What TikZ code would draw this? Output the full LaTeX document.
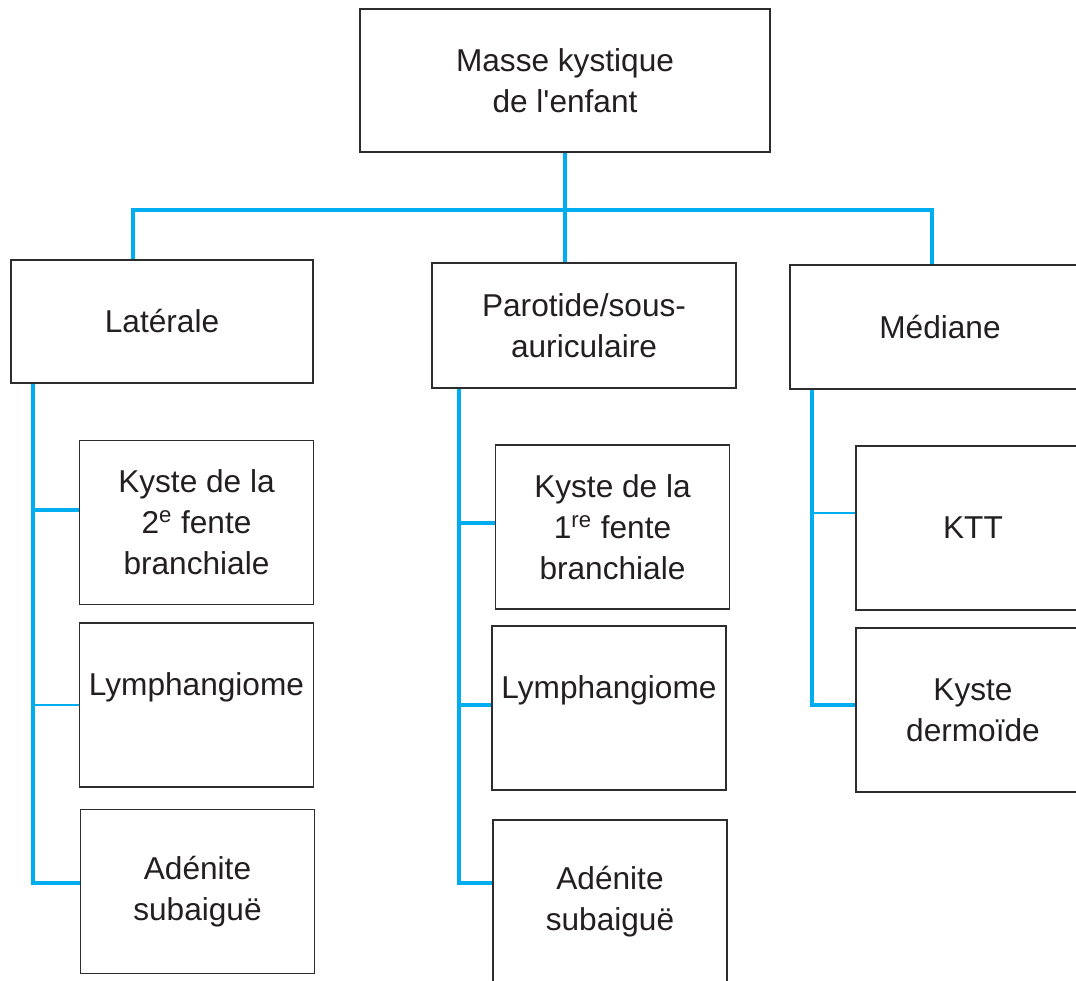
\documentclass[tikz,border=0pt]{standalone}
\usepackage{fontspec}
\setmainfont{Liberation Sans}[Ligatures=TeXOff]
\definecolor{bleulien}{RGB}{0,174,239}
\definecolor{gristrait}{RGB}{45,45,45}
\definecolor{noirtexte}{RGB}{35,31,32}

\begin{document}
\begin{tikzpicture}[
    x=0.02cm, y=-0.02cm, % une unité = un pixel
    % Réglages des boîtes et des liaisons
    boite/.style={draw=gristrait, line width=1.1pt, fill=white, align=center,
        text=noirtexte, inner sep=0pt, font=\fontsize{18}{23.3}\selectfont},
    feuille/.style={boite, minimum width=4.68cm, minimum height=3.28cm},
    lien/.style={draw=bleulien, line width=1.8pt},
    lienfin/.style={draw=bleulien, line width=0.6pt}
]
\useasboundingbox (0,0) rectangle (1076,981);
% Racine
\node[boite, minimum width=8.2cm, minimum height=2.86cm] (racine) at (565,80.5) {Masse kystique\\de l'enfant};
% Les trois localisations
\node[boite, minimum width=6.04cm, minimum height=2.46cm] (laterale) at (162,321.5) {Latérale};
\node[boite, minimum width=6.08cm, minimum height=2.5cm] (parotide) at (584,325.5) {Parotide/sous-\\auriculaire};
\node[boite, minimum width=6cm, minimum height=2.48cm] (mediane) at (940,327) {Médiane};
% Colonne latérale
\node[feuille] (kyste2) at (196.5,522.5) {Kyste de la\\2\textsuperscript{e} fente\\branchiale};
\node[feuille] (lympho1) at (196.5,705) {Lymphangiome\\~};
\node[feuille] (adenite1) at (197.5,891.5) {Adénite\\subaiguë};
% Colonne parotide
\node[feuille] (kyste1) at (612.5,527) {Kyste de la\\1\textsuperscript{re} fente\\branchiale};
\node[feuille] (lympho2) at (609,708) {Lymphangiome\\~};
\node[feuille] (adenite2) at (610,902) {Adénite\\subaiguë};
% Colonne médiane
\node[feuille] (ktt) at (973,528) {KTT};
\node[feuille] (dermo) at (973,710) {Kyste\\dermoïde};

% Liaisons du haut
\coordinate (barreG) at (133,210);
\coordinate (barreD) at (932,210);
\draw[lien] (racine.south) -- (racine.south |- parotide.north);
\draw[lien] (laterale.north -| barreG) -- (barreG) -- (barreD) -- (mediane.north -| barreD);
% Liaisons des colonnes
\coordinate (colG) at (33,0);
\coordinate (colM) at (459,0);
\coordinate (colD) at (812,0);
\draw[lien] (laterale.south -| colG) |- ([yshift=0.25cm]kyste2.west);
\draw[lien] (laterale.south -| colG) |- ([yshift=0.17cm]adenite1.west);
\draw[lienfin] (colG |- lympho1.west) -- (lympho1.west);
\draw[lien] (parotide.south -| colM) |- ([yshift=0.08cm]kyste1.west);
\draw[lien] (parotide.south -| colM) |- ([yshift=0.06cm]lympho2.west);
\draw[lien] (parotide.south -| colM) |- ([yshift=0.38cm]adenite2.west);
\draw[lien] (mediane.south -| colD) |- ([yshift=0.1cm]dermo.west);
\draw[lienfin] ([yshift=0.3cm]ktt.west) -- ([yshift=0.3cm]ktt.west -| colD);
\end{tikzpicture}
\end{document}
